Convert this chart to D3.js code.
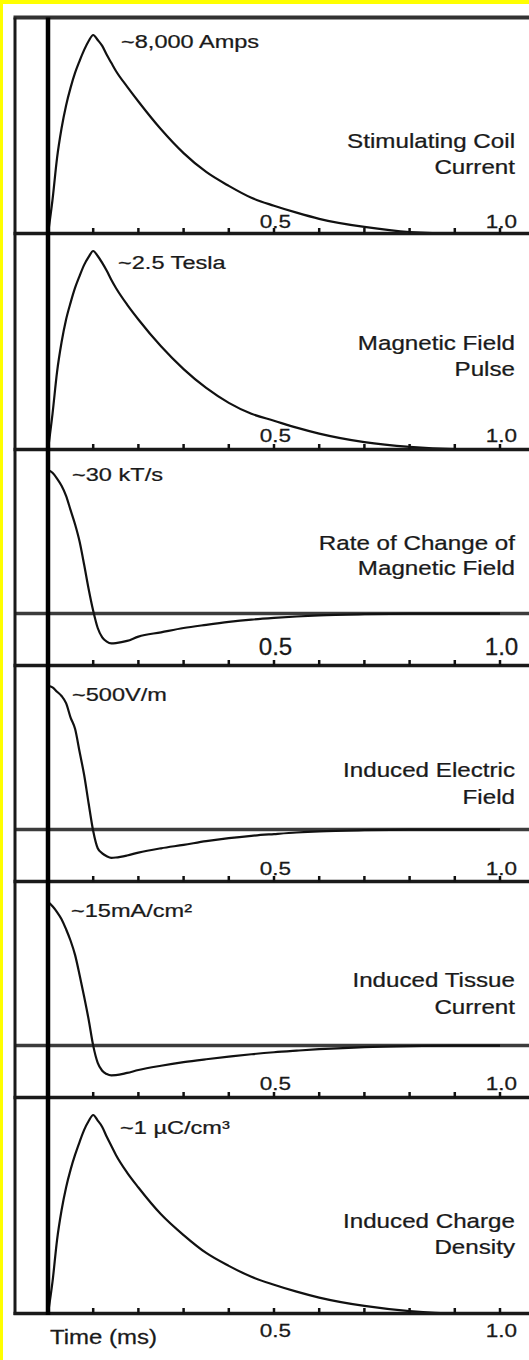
<!DOCTYPE html>
<html>
<head>
  <meta charset="utf-8">
  <script src="https://d3js.org/d3.v7.min.js"></script>
  <style>
    body { margin: 0; background: #fff; }
    text { font-family: "Liberation Sans", Arial, sans-serif; fill: #1a1a1a; stroke: #1a1a1a; stroke-width: 0.25px; }
  </style>
</head>
<body>
<script type="text/javascript">

  // time axis (ms) shared by every trace
  var times = [0, 0.01, 0.02, 0.03, 0.04, 0.05, 0.06, 0.07, 0.08, 0.09, 0.1,
               0.11, 0.12, 0.13, 0.14, 0.15, 0.175, 0.2, 0.25, 0.3, 0.35, 0.4,
               0.45, 0.5, 0.55, 0.6, 0.7, 0.8, 0.9, 1.0];

  // normalised traces
  var coilCurrent   = [0, 0.17, 0.38, 0.53, 0.645, 0.735, 0.81, 0.87, 0.925, 0.97, 1.0,
                       0.975, 0.945, 0.90, 0.86, 0.82, 0.74, 0.665, 0.525, 0.405, 0.31, 0.24,
                       0.18, 0.14, 0.105, 0.074, 0.033, 0.007, 0, 0];
  var magneticField = [0, 0.18, 0.39, 0.54, 0.655, 0.74, 0.815, 0.875, 0.93, 0.97, 1.0,
                       0.975, 0.94, 0.90, 0.855, 0.815, 0.73, 0.655, 0.52, 0.405, 0.31, 0.235,
                       0.18, 0.145, 0.11, 0.08, 0.037, 0.013, 0.002, 0];
  var fieldRate     = [1.0, 0.98, 0.94, 0.89, 0.82, 0.72, 0.62, 0.50, 0.34, 0.17, 0.02,
                       -0.10, -0.165, -0.195, -0.207, -0.205, -0.19, -0.16, -0.13, -0.10, -0.078, -0.058,
                       -0.042, -0.03, -0.02, -0.012, -0.004, 0, 0, 0];
  var electricField = [1.0, 0.99, 0.96, 0.93, 0.88, 0.78, 0.70, 0.54, 0.38, 0.18, -0.01,
                       -0.13, -0.165, -0.185, -0.196, -0.194, -0.18, -0.16, -0.13, -0.106, -0.08, -0.059,
                       -0.043, -0.031, -0.02, -0.012, -0.004, 0, 0, 0];
  var tissueCurrent = [1.0, 0.97, 0.93, 0.88, 0.81, 0.73, 0.63, 0.49, 0.34, 0.18, 0.0,
                       -0.12, -0.175, -0.198, -0.207, -0.206, -0.19, -0.17, -0.14, -0.115, -0.095, -0.077,
                       -0.06, -0.046, -0.035, -0.025, -0.01, -0.003, 0, 0];
  var chargeDensity = [0, 0.16, 0.37, 0.52, 0.635, 0.725, 0.80, 0.865, 0.925, 0.97, 1.0,
                       0.972, 0.94, 0.89, 0.845, 0.80, 0.71, 0.635, 0.50, 0.395, 0.305, 0.24,
                       0.185, 0.145, 0.11, 0.08, 0.038, 0.012, 0, 0];

  var peakLabels = ["~8,000 Amps", "~2.5 Tesla", "~30 kT/s", "~500V/m", "~15mA/cm\u00B2", "~1 \u00B5C/cm\u00B3"];
  var panelTitles = [["Stimulating Coil", "Current"],
                     ["Magnetic Field", "Pulse"],
                     ["Rate of Change of", "Magnetic Field"],
                     ["Induced Electric", "Field"],
                     ["Induced Tissue", "Current"],
                     ["Induced Charge", "Density"]];
  var biphasic = [false, false, true, true, true, false];
  var tickValues = [0.1, 0.2, 0.3, 0.4, 0.5, 0.6, 0.7, 0.8, 0.9, 1.0];
  var tickLabels = [0.5, 1.0];
  var xTitle = "Time (ms)";

  var series = [coilCurrent, magneticField, fieldRate, electricField, tissueCurrent, chargeDensity];

  /*
    layout (pixels)
  */
  var width = 529, height = 1360,
      frameLeft = 15, plotTop = 17.5, panelH = 216;
  // per-panel text placement, offsets from panel top
  var peakPos   = [[121, 30], [118, 35], [72, 31], [72, 35], [71, 35.5], [120, 36]];
  var titlePos  = [[130, 156], [116.5, 142.5], [100, 125.5], [111, 138], [105, 132], [130.5, 156]];
  var tickLblDy = [-6, -7.5, -11, -6.5, -7.5, 23];
  var tickLblSize = [18, 18, 23, 18, 18, 18];
  var sx = 1.24;

  var svg = d3.select("body").append("svg")
      .attr("width", width)
      .attr("height", height);

  // yellow border top / left
  svg.append("rect").attr("width", width).attr("height", height).attr("fill", "#ffff00");
  svg.append("rect").attr("x", 3).attr("y", 4).attr("width", width - 3).attr("height", height - 4).attr("fill", "#fff");

  var x = d3.scaleLinear().domain([0, 1]).range([48, 500]);

  function stretchText(g, px, py, str, size, anchor, scale) {
    return g.append("text")
      .attr("transform", "translate(" + px + "," + py + ") scale(" + scale + ",1)")
      .attr("text-anchor", anchor)
      .style("font-size", size + "px")
      .text(str);
  }

  series.forEach(function (vals, i) {
    var y0 = plotTop + i * panelH, y1 = y0 + panelH;
    var y = d3.scaleLinear()
      .domain(biphasic[i] ? [-52 / 144, 1 + 20.5 / 144] : [0, panelH / 198.5])
      .range([y1, y0]);

    var g = svg.append("g").attr("class", "panel");

    // zero line for biphasic traces
    if (biphasic[i]) {
      g.append("line")
        .attr("x1", frameLeft).attr("x2", width)
        .attr("y1", y(0)).attr("y2", y(0))
        .attr("stroke", "#3c3c3c").attr("stroke-width", 3.5);
    }

    var line = d3.line()
      .x(function (d, k) { return x(times[k]); })
      .y(function (d) { return y(d); })
      .curve(d3.curveMonotoneX);

    g.append("path")
      .datum(vals)
      .attr("d", line)
      .attr("fill", "none")
      .attr("stroke", "#111")
      .attr("stroke-width", 2.2);

    // bottom axis line with little ticks on top of it
    g.append("line")
      .attr("x1", frameLeft - 1.5).attr("x2", width)
      .attr("y1", y1).attr("y2", y1)
      .attr("stroke", "#1a1a1a").attr("stroke-width", 3.5);
    g.selectAll(".tick")
      .data(tickValues)
      .enter().append("line")
        .attr("x1", function (d) { return x(d); })
        .attr("x2", function (d) { return x(d); })
        .attr("y1", y1 - 5.5).attr("y2", y1)
        .attr("stroke", "#111").attr("stroke-width", 2.5);

    tickLabels.forEach(function (t) {
      stretchText(g, x(t) + 1.5, y1 + tickLblDy[i], d3.format(".1f")(t), tickLblSize[i], "middle",
                  i === 2 ? 1.05 : 1.25);
    });

    stretchText(g, peakPos[i][0], y0 + peakPos[i][1], peakLabels[i], 19, "start", sx);
    stretchText(g, 515, y0 + titlePos[i][0], panelTitles[i][0], 19.5, "end", sx);
    stretchText(g, 515, y0 + titlePos[i][1], panelTitles[i][1], 19.5, "end", sx);
  });

  var plotBottom = plotTop + 6 * panelH;

  // frame: top edge, left edge, and the thick time-zero line
  svg.append("line")
    .attr("x1", frameLeft - 1.5).attr("x2", width)
    .attr("y1", plotTop).attr("y2", plotTop)
    .attr("stroke", "#333").attr("stroke-width", 4);
  svg.append("line")
    .attr("x1", frameLeft).attr("x2", frameLeft)
    .attr("y1", plotTop).attr("y2", plotBottom + 1.5)
    .attr("stroke", "#1a1a1a").attr("stroke-width", 3);
  svg.append("line")
    .attr("x1", x(0)).attr("x2", x(0))
    .attr("y1", plotTop).attr("y2", plotBottom + 1.5)
    .attr("stroke", "#000").attr("stroke-width", 4.5);

  stretchText(svg, 50, plotBottom + 30, xTitle, 19.5, "start", 1.23);

</script>
</body>
</html>
